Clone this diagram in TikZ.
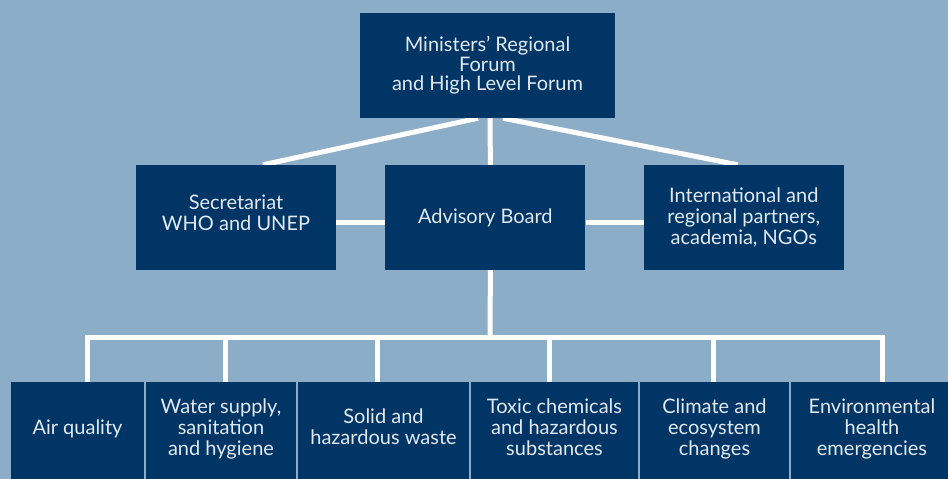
\documentclass[tikz,border=0pt]{standalone}
\usepackage{fontspec}
\setmainfont{Lato}
\usetikzlibrary{positioning,backgrounds}

\definecolor{bgblue}{RGB}{140,173,199}
\definecolor{navy}{RGB}{0,53,102}
\definecolor{boxtext}{RGB}{226,233,241}

\pgfdeclarelayer{paper}
\pgfsetlayers{paper,background,main}

\tikzset{
  box/.style={fill=navy,text=boxtext,align=center,inner sep=0pt,
    font=\fontsize{20}{21}\selectfont},
  link/.style={draw=white,line width=5pt}
}

\begin{document}
\begin{tikzpicture}[x=1pt,y=-1pt]
\useasboundingbox (0,0) rectangle (948,479);
\clip (0,0) rectangle (948,479);
\begin{pgfonlayer}{paper}
  \fill[bgblue] (0,0) rectangle (948,479);
\end{pgfonlayer}

% upper part
\node[box,minimum width=255,minimum height=105,font=\fontsize{20}{19.5}\selectfont]
  (forum) at (487.5,65.5) {Ministers’ Regional\\Forum\\and High Level Forum};
\node[box,minimum width=200,minimum height=105] (secr) at (236,217.5)
  {Secretariat\\WHO and UNEP\rule[-9pt]{0pt}{0pt}};
\node[box,minimum width=200,minimum height=105,right=49pt of secr] (board) {Advisory Board};
\node[box,minimum width=200,minimum height=105,right=58pt of board] (partners)
  {International and\\regional partners,\\academia, NGOs};

% work areas
\foreach \cx/\w/\dx/\t [count=\n] in
  {77.5/133/9.5/{Air quality},
   221/150/4/{Water supply,\\sanitation\\and hygiene},
   383.5/171/-6.5/{Solid and\\hazardous waste},
   554.5/167/-5.5/{Toxic chemicals\\and hazardous\\substances},
   714.5/149/-1.5/{Climate and\\ecosystem\\changes},
   872/162/10/{Environmental\\health\\emergencies}}
  {
  \node[box,minimum width=\w,minimum height=100] (A\n) at (\cx,432)
    {\t\rule[-10pt]{0pt}{0pt}};
  \coordinate (D\n) at ([xshift=\dx pt]A\n.north);
  }

\coordinate (bus) at (490,337.5);

\begin{pgfonlayer}{background}
  \draw[link] ([xshift=-9.5pt]forum.south) -- ([xshift=27pt]secr.north);
  \draw[link] ([xshift=15.5pt]forum.south) -- ([xshift=-6pt]partners.north);
  \draw[link] ([xshift=2.5pt]forum.south) -- ([xshift=5pt]board.north);
  \draw[link] ([yshift=-4.5pt]secr.east) -- ([yshift=-4.5pt]board.west);
  \draw[link] ([yshift=-4.5pt]board.east) -- ([yshift=-4.5pt]partners.west);
  \draw[link] ([xshift=5pt]board.south) -- (bus);
  \draw[link] (D1) |- (bus) -| (D6);
  \foreach \n in {2,...,5}
    \draw[link] (D\n) -- (D\n |- bus);
\end{pgfonlayer}
\end{tikzpicture}
\end{document}
